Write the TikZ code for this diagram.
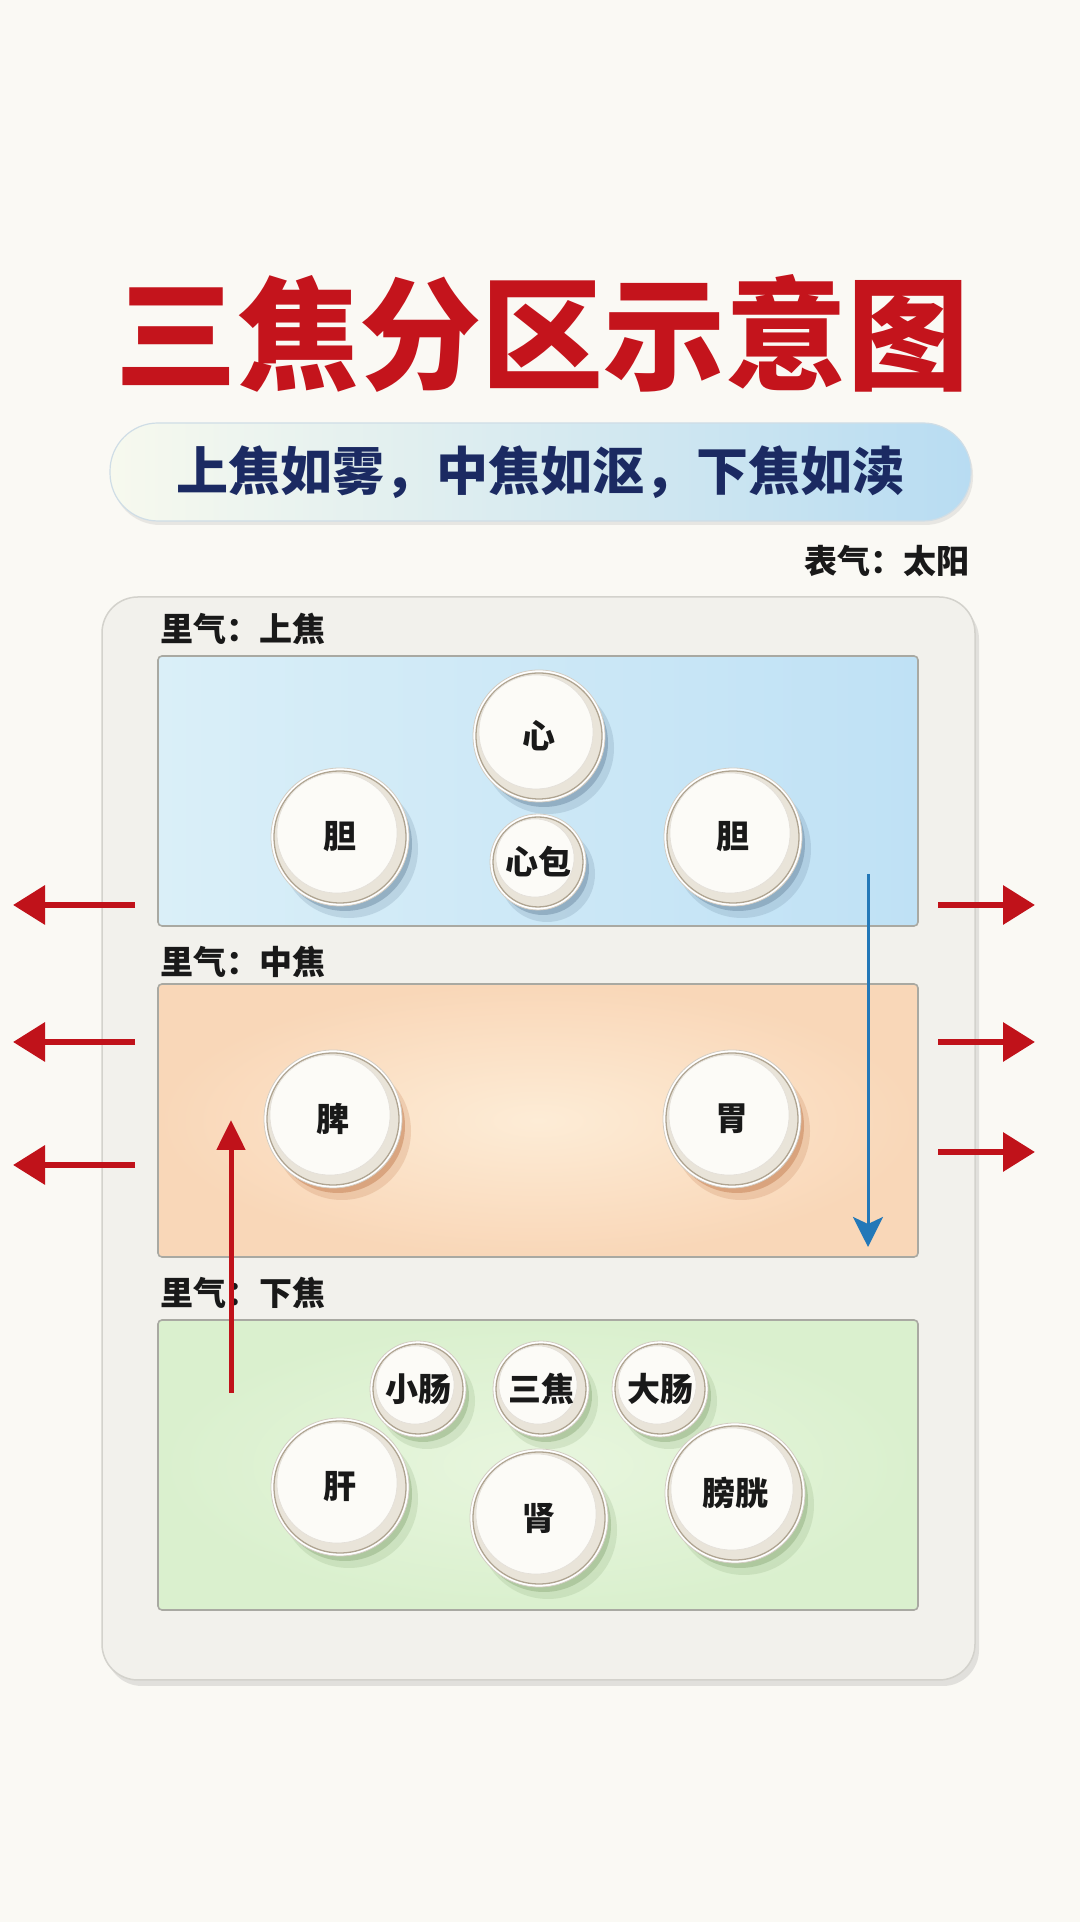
\documentclass[tikz,border=0pt]{standalone}
\usepackage{fontspec}
\usepackage{tikz}
\usetikzlibrary{positioning}
\usetikzlibrary{arrows.meta}
\usetikzlibrary{calc}
\usetikzlibrary{shadows}
\newfontfamily\cjk{Noto Sans CJK SC}
\definecolor{pagebg}{HTML}{FAF9F4}
\definecolor{titlered}{HTML}{C4141C}
\definecolor{mottonavy}{HTML}{1B2A62}
\definecolor{pillleft}{HTML}{F7F9EE}
\definecolor{pillright}{HTML}{B8DCF2}
\definecolor{pilledge}{HTML}{CFDDE6}
\definecolor{framefill}{HTML}{F2F1EC}
\definecolor{frameedge}{HTML}{D3D2CC}
\definecolor{paneledge}{HTML}{A9A9A2}
\definecolor{upperleft}{HTML}{DAEFF8}
\definecolor{upperright}{HTML}{BFE1F5}
\definecolor{middlein}{HTML}{FDECD6}
\definecolor{middleout}{HTML}{F9D7B8}
\definecolor{lowerin}{HTML}{E8F6DE}
\definecolor{lowerout}{HTML}{DAF0CE}
\definecolor{disctan}{HTML}{AFA491}
\definecolor{discbody}{HTML}{E9E4D9}
\definecolor{disctop}{HTML}{FCFBF7}
\definecolor{arrowred}{HTML}{C0121A}
\definecolor{arrowblue}{HTML}{2378B8}
\definecolor{shadeupper}{HTML}{7693AA}
\definecolor{shademiddle}{HTML}{C9875C}
\definecolor{shadelower}{HTML}{97B486}
% one organ button: name, place, radius, shadow colour, label
\newcommand{\organ}[5]{%
  \begin{scope}[shift={(#2)}]
    \fill[#4, opacity=0.25] (9,-12) circle (#3+3);
    \fill[#4, opacity=0.55] (5,-7) circle (#3+1);
    \filldraw[fill=white, draw=disctan!55, line width=0.8pt] (0,0) circle (#3+3);
    \filldraw[fill=discbody, draw=disctan, line width=1.3pt] (0,0) circle (#3);
    \filldraw[fill=disctop, draw=disctan!35, line width=0.6pt] (-3,4) circle (#3-6);
    \node[organtext] (#1) at (0,0) {#5};
  \end{scope}}

\begin{document}
\begin{tikzpicture}[x=1pt,y=1pt,
    titletext/.style={font=\cjk\bfseries\fontsize{122}{130}\selectfont, inner sep=0pt},
    mottotext/.style={font=\cjk\bfseries\fontsize{52}{56}\selectfont, text=mottonavy, inner sep=0pt},
    zonelabel/.style={font=\cjk\bfseries\fontsize{33}{36}\selectfont, text=black!90, inner sep=0pt},
    organtext/.style={font=\cjk\bfseries\fontsize{33}{36}\selectfont, text=black!90, inner sep=0pt},
    panel/.style={draw=paneledge, line width=1.6pt, rounded corners=4},
    redarrow/.style={draw=arrowred, line width=6.5pt, -{Triangle[length=32pt,width=38pt]}},
    flowarrow/.style={line width=#1, -{Stealth[length=30pt,width=30pt,inset=7pt]}}]
                    \fill[pagebg] (0,0) rectangle (1080,1922);
                    \useasboundingbox (0,0) rectangle (1080,1922);
                    \coordinate (nupper)  at (538,1131);
                    \coordinate (nmiddle) at (538,801);
                    \coordinate (nlower)  at (538,457);
                    % the title
                    \node[titletext, text=titlered] (ntitle) at (542,1589) {三焦分区示意图};
                    % motto pill
                    \coordinate (npill1) at (110,1401);
                    \coordinate (npill3) at (971,1499);
                    \draw[rounded corners=48, left color=pillleft, right color=pillright, draw=pilledge, line width=1.2pt,
                          drop shadow={shadow xshift=2pt, shadow yshift=-4pt, opacity=0.15}] (npill1) rectangle (npill3);
                    \node[mottotext] (nmotto) at ($(npill1)!0.5!(npill3)$) {上焦如雾，中焦如沤，下焦如渎};
                    \node[zonelabel, anchor=east] (nbiaoqi) at (970,1361) {表气：太阳};
                    % outer frame
                    \coordinate (nframe1) at (102,242);
                    \coordinate (nframe3) at (975,1325);
                    \draw[rounded corners=36, fill=framefill, draw=frameedge, line width=1.5pt,
                          drop shadow={shadow xshift=4pt, shadow yshift=-6pt, opacity=0.20}] (nframe1) rectangle (nframe3);
                    % upper burner
                    \coordinate (nup1) at ($(nupper)+(-380,-135)$);
                    \coordinate (nup3) at ($(nupper)+( 380, 135)$);
                    \draw[panel, left color=upperleft, right color=upperright] (nup1) rectangle (nup3);
                    \node[zonelabel, anchor=west] (nlabelup) at (160,1293) {里气：上焦};
                    \organ{nxin}   {$(nupper)+(1,55)$}    {63}{shadeupper}{心}
                    \organ{ndanl}  {$(nupper)+(-198,-46)$}{66}{shadeupper}{胆}
                    \organ{nxinbao}{$(nupper)+(0,-71)$}   {45}{shadeupper}{心包}
                    \organ{ndanr}  {$(nupper)+(195,-46)$} {66}{shadeupper}{胆}
                    % middle burner
                    \coordinate (nmid1) at ($(nmiddle)+(-380,-136)$);
                    \coordinate (nmid3) at ($(nmiddle)+( 380, 137)$);
                    \draw[panel, inner color=middlein, outer color=middleout] (nmid1) rectangle (nmid3);
                    \node[zonelabel, anchor=west] (nlabelmid) at (160,960) {里气：中焦};
                    \organ{npi} {$(nmiddle)+(-205,2)$}{66}{shademiddle}{脾}
                    \organ{nwei}{$(nmiddle)+(194,2)$} {66}{shademiddle}{胃}
                    % lower burner
                    \coordinate (nlow1) at ($(nlower)+(-380,-145)$);
                    \coordinate (nlow3) at ($(nlower)+( 380, 145)$);
                    \draw[panel, inner color=lowerin, outer color=lowerout] (nlow1) rectangle (nlow3);
                    \node[zonelabel, anchor=west] (nlabellow) at (160,629) {里气：下焦};
                    \organ{nxiaochang}{$(nlower)+(-120,76)$} {45}{shadelower}{小肠}
                    \organ{nsanjiao}  {$(nlower)+(3,76)$}    {45}{shadelower}{三焦}
                    \organ{ndachang}  {$(nlower)+(122,76)$}  {45}{shadelower}{大肠}
                    \organ{ngan}      {$(nlower)+(-198,-22)$}{66}{shadelower}{肝}
                    \organ{nshen}     {$(nlower)+(1,-53)$}   {66}{shadelower}{肾}
                    \organ{npangguang}{$(nlower)+(197,-28)$} {67}{shadelower}{膀胱}
                    % outward arrows of the surface qi
                    \coordinate (nleft1s) at (135,1017);  \coordinate (nleft1e) at (13,1017);
                    \coordinate (nleft2s) at (135,880);   \coordinate (nleft2e) at (13,880);
                    \coordinate (nleft3s) at (135,757);   \coordinate (nleft3e) at (13,757);
                    \coordinate (nright1s) at (938,1017); \coordinate (nright1e) at (1035,1017);
                    \coordinate (nright2s) at (938,880);  \coordinate (nright2e) at (1035,880);
                    \coordinate (nright3s) at (938,770);  \coordinate (nright3e) at (1035,770);
                    \draw[redarrow] (nleft1s) -- (nleft1e);
                    \draw[redarrow] (nleft2s) -- (nleft2e);
                    \draw[redarrow] (nleft3s) -- (nleft3e);
                    \draw[redarrow] (nright1s) -- (nright1e);
                    \draw[redarrow] (nright2s) -- (nright2e);
                    \draw[redarrow] (nright3s) -- (nright3e);
                    % descending and ascending flow
                    \coordinate (ndowns) at (868,1048);
                    \coordinate (ndowne) at (868,675);
                    \draw[flowarrow=3pt, draw=arrowblue, fill=arrowblue] (ndowns) -- (ndowne);
                    \coordinate (nups) at (231,529);
                    \coordinate (nupe) at (231,802);
                    \draw[draw=arrowred, fill=arrowred, line width=5pt, -{Triangle[length=30pt,width=28pt]}] (nups) -- (nupe);
                \end{tikzpicture}
\end{document}
